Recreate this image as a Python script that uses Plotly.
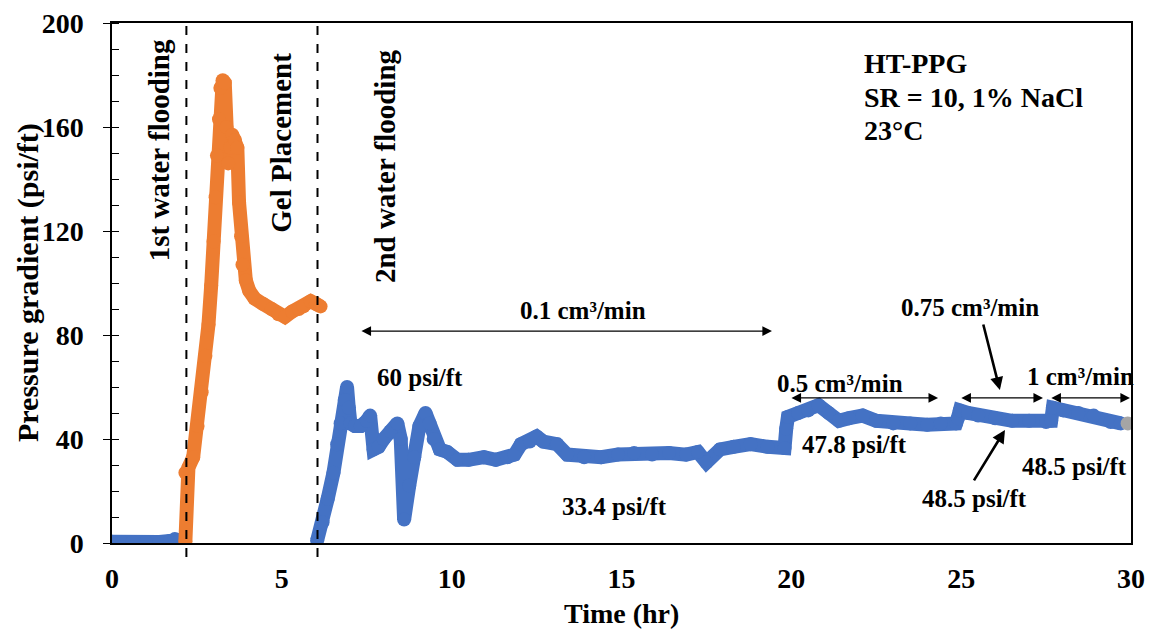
import plotly.graph_objects as go

# ---- data ----
wf1_t = [0.0, 0.3, 0.6, 1.0, 1.4, 1.7, 1.85, 2.0, 2.15]
wf1_p = [0.5, 0.3, 0.3, 0.3, 0.4, 0.8, 1.5, 1.2, 0.5]

gel_t = [2.16, 2.16, 2.25, 2.39, 2.52, 2.64, 2.75, 2.84, 2.92, 2.99, 3.05, 3.09, 3.15, 3.19, 3.26,
         3.32, 3.37, 3.42, 3.48, 3.54, 3.62, 3.69, 3.74, 3.80, 3.84, 3.94, 4.04, 4.2, 4.44, 4.7,
         4.9, 5.09, 5.3, 5.5, 5.64, 5.85, 6.0, 6.14]
gel_p = [0.5, 27, 29, 33, 45, 58, 72, 84, 99, 116, 133, 149, 163, 175, 178,
         177, 160, 146, 152, 157, 155, 152, 131, 118, 107, 101, 97, 94, 92, 90,
         88, 87, 89, 90, 91, 93, 92, 91]

wf2_t = [6.04, 6.2, 6.35, 6.52, 6.63, 6.73, 6.85, 6.92, 6.97, 7.02, 7.15, 7.32, 7.5, 7.6, 7.7,
         7.85, 8.0, 8.2, 8.4, 8.5, 8.6, 8.75, 8.9, 9.05, 9.23, 9.35, 9.47, 9.65, 9.87, 10.17,
         10.5, 10.95, 11.3, 11.64, 11.85, 12.04, 12.3, 12.5, 12.7, 13.1, 13.4, 13.9, 14.4, 14.9,
         15.37, 15.9, 16.4, 16.9, 17.25, 17.5, 17.9, 18.3, 18.8, 19.3, 19.8, 19.85, 19.9, 20.2,
         20.5, 20.8, 21.1, 21.4, 21.7, 22.1, 22.5, 23.0, 23.5, 24.0, 24.4, 24.85, 24.9, 24.96,
         25.2, 25.5, 26.0, 26.5, 27.0, 27.5, 27.65, 27.7, 28.0, 28.45, 28.9, 29.4, 29.7]
wf2_p = [1, 8, 17, 27, 38, 46, 55, 60, 52, 46, 45, 45, 47, 49, 36,
         37, 40, 43, 46, 40, 9, 22, 33, 45, 50, 46, 40, 36, 35, 32,
         32, 33, 32, 33, 34, 38, 39, 41, 39, 38, 34, 33, 33, 34,
         34.6, 34, 34.6, 34, 35, 31, 36, 37, 38, 37, 36.5, 44, 48.5, 50,
         51, 53, 50, 47, 48, 49, 47, 46, 46, 45.5, 46, 46, 48, 51,
         50, 49, 48, 47, 47, 46.5, 47, 52, 51, 50, 49, 46.5, 46]

end_t = [29.9]
end_p = [46]

x_ticks = [0, 5, 10, 15, 20, 25, 30]
y_ticks = [0, 40, 80, 120, 160, 200]
phase_lines = [2.19, 6.05]

BLUE = "#4472C4"
ORANGE = "#ED7D31"
GREY = "#A5A5A5"
FONT = "Liberation Serif"
W = 14

fig = go.Figure()
fig.add_trace(go.Scatter(x=wf1_t, y=wf1_p, mode="lines+markers",
                         line=dict(color=BLUE, width=W), marker=dict(color=BLUE, size=W),
                         showlegend=False))
fig.add_trace(go.Scatter(x=gel_t, y=gel_p, mode="lines+markers",
                         line=dict(color=ORANGE, width=W), marker=dict(color=ORANGE, size=W),
                         showlegend=False))
fig.add_trace(go.Scatter(x=wf2_t, y=wf2_p, mode="lines+markers",
                         line=dict(color=BLUE, width=W), marker=dict(color=BLUE, size=W),
                         showlegend=False))
fig.add_trace(go.Scatter(x=end_t, y=end_p, mode="markers",
                         marker=dict(color=GREY, size=W), showlegend=False))

for xv in phase_lines:
    fig.add_shape(type="line", xref="x", yref="paper", x0=xv, x1=xv, y0=-0.027, y1=1,
                  line=dict(color="black", width=2, dash="dash"))

def txt(x, y, s, size=25, angle=0, xanchor="center"):
    fig.add_annotation(x=x, y=y, xref="x", yref="y", text=s, showarrow=False,
                       textangle=angle, xanchor=xanchor,
                       font=dict(family=FONT, size=size, color="black", weight="bold"))

def darrow(x0, x1, y):
    fig.add_annotation(x=x1, y=y, ax=x0, ay=y, xref="x", yref="y", axref="x", ayref="y",
                       text="", showarrow=True, arrowhead=2, arrowside="end+start",
                       arrowsize=1.6, arrowwidth=1.2, arrowcolor="black")

def sarrow(x0, y0, x1, y1):
    fig.add_annotation(x=x1, y=y1, ax=x0, ay=y0, xref="x", yref="y", axref="x", ayref="y",
                       text="", showarrow=True, arrowhead=2, arrowsize=1.0,
                       arrowwidth=2.6, arrowcolor="black")

txt(1.41, 151, "1st water flooding", size=29, angle=-90)
txt(4.95, 154, "Gel Placement", size=29, angle=-90)
txt(8.04, 145, "2nd water flooding", size=29, angle=-90)

txt(13.87, 89.6, "0.1 cm³/min")
darrow(7.3, 19.43, 81.5)
txt(9.07, 63.5, "60 psi/ft")
txt(14.8, 14.2, "33.4 psi/ft")

txt(21.43, 61.5, "0.5 cm³/min")
darrow(19.96, 24.32, 55.8)
txt(21.87, 37.7, "47.8 psi/ft")

txt(25.26, 90.4, "0.75 cm³/min")
sarrow(25.64, 84.6, 26.14, 58.8)
darrow(24.96, 27.41, 55.8)

txt(28.5, 64.2, "1 cm³/min")
darrow(27.61, 29.97, 55.8)
txt(28.35, 29.6, "48.5 psi/ft")

txt(25.4, 17.3, "48.5 psi/ft")
sarrow(25.35, 23.5, 26.29, 43.5)

txt(22.08, 184.6, "HT-PPG", size=28, xanchor="left")
txt(22.08, 171.5, "SR = 10, 1% NaCl", size=28, xanchor="left")
txt(22.08, 158.5, "23°C", size=28, xanchor="left")

# axis titles placed as paper-referenced annotations
fig.add_annotation(x=0.5, y=-0.136, xref="paper", yref="paper", text="Time (hr)",
                   showarrow=False, xanchor="center", yanchor="middle",
                   font=dict(family=FONT, size=28, color="black", weight="bold"))
fig.add_annotation(x=-0.0824, y=0.5, xref="paper", yref="paper",
                   text="Pressure gradient (psi/ft)", textangle=-90,
                   showarrow=False, xanchor="center", yanchor="middle",
                   font=dict(family=FONT, size=30, color="black", weight="bold"))

fig.update_layout(
    width=1150, height=630,
    margin=dict(l=112, r=19, t=23, b=87, autoexpand=False),
    plot_bgcolor="white", paper_bgcolor="white",
    font=dict(family=FONT, color="black"),
    xaxis=dict(range=[0, 30], tickvals=x_ticks, ticks="", showgrid=False, zeroline=False,
               showline=True, linecolor="black", linewidth=1.5, mirror=True, automargin=False,
               tickfont=dict(family=FONT, size=28, color="black", weight="bold"),
               ticklabelstandoff=10, ticklabeloverflow="allow"),
    yaxis=dict(range=[0, 200], tickvals=y_ticks, ticks="outside", ticklen=7, tickwidth=1.3,
               tickcolor="black", showgrid=False, zeroline=False, automargin=False,
               showline=True, linecolor="black", linewidth=1.5, mirror=True,
               minor=dict(dtick=10, ticks="inside", ticklen=7, tickcolor="black", tickwidth=1.3),
               tickfont=dict(family=FONT, size=28, color="black", weight="bold"),
               ticklabelstandoff=14, ticklabeloverflow="allow"),
)

# remove the default page margin so the 1150x630 figure fills the window exactly
fig.write_html("out.html", config={"displayModeBar": False},
               post_script="document.body.style.margin='0';document.body.style.overflow='hidden';")
